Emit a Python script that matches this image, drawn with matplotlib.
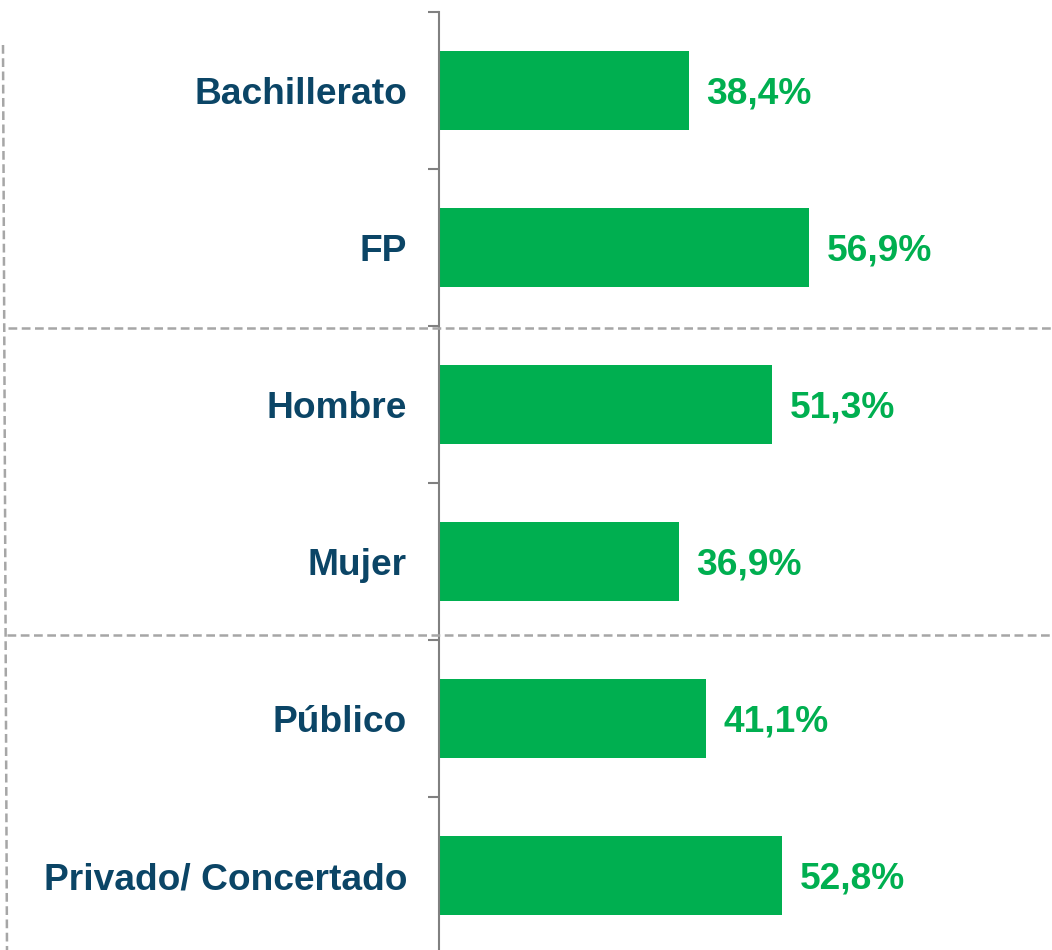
import matplotlib
matplotlib.use('Agg')
import matplotlib.pyplot as plt
from matplotlib.lines import Line2D

categories = ['Bachillerato', 'FP', 'Hombre', 'Mujer', 'Público', 'Privado/ Concertado']
values = [38.4, 56.9, 51.3, 36.9, 41.1, 52.8]
value_labels = ['38,4%', '56,9%', '51,3%', '36,9%', '41,1%', '52,8%']

BAR_COLOR = '#00AF50'
LABEL_COLOR = '#0B4566'
GRID_COLOR = '#A6A6A6'
SPINE_COLOR = '#808080'

plt.rcParams['font.family'] = ['Liberation Sans', 'DejaVu Sans']

W, H = 1052, 950
fig = plt.figure(figsize=(W / 100, H / 100), dpi=100)
fig.patch.set_facecolor('white')

# axes: left edge at the spine (x=439px), top at 12px, bottom at figure bottom
ax = fig.add_axes([439 / W, 0, (W - 439) / W, (H - 12) / H])
pos = list(range(len(categories)))
ax.barh(pos, values, height=0.5, color=BAR_COLOR)

ax.set_xlim(0, (W - 439) / 6.5)
ax.set_ylim(5.5 - 4 / 157, -0.5)

for y, v, lab in zip(pos, values, value_labels):
    ax.text(v + 2.7, y + 0.025, lab, va='center', ha='left', color=BAR_COLOR,
            fontsize=26.7, fontweight='bold')

ax.set_yticks(pos)
ax.set_yticklabels(categories, fontsize=26.7, fontweight='bold', color=LABEL_COLOR)
ax.tick_params(axis='y', which='major', length=0, pad=23)
ax.set_yticks([i - 0.5 for i in range(len(categories))], minor=True)
ax.tick_params(axis='y', which='minor', length=8, width=1.5, color=SPINE_COLOR)
ax.set_xticks([])

for s in ['top', 'right', 'bottom']:
    ax.spines[s].set_visible(False)
ax.spines['left'].set_color(SPINE_COLOR)
ax.spines['left'].set_linewidth(1.5)

# group separators (dashed), in figure pixel coordinates
def fig_line(x0, y0, x1, y1):
    fig.add_artist(Line2D([x0 / W, x1 / W], [1 - y0 / H, 1 - y1 / H],
                          color=GRID_COLOR, lw=1.8, ls=(0, (3.5, 1.8)),
                          transform=fig.transFigure))

fig_line(8, 328, W, 328)
fig_line(7, 635, W, 635)
fig_line(3, 45, 7, 950)

fig.savefig('out.png', dpi=100, facecolor='white')
